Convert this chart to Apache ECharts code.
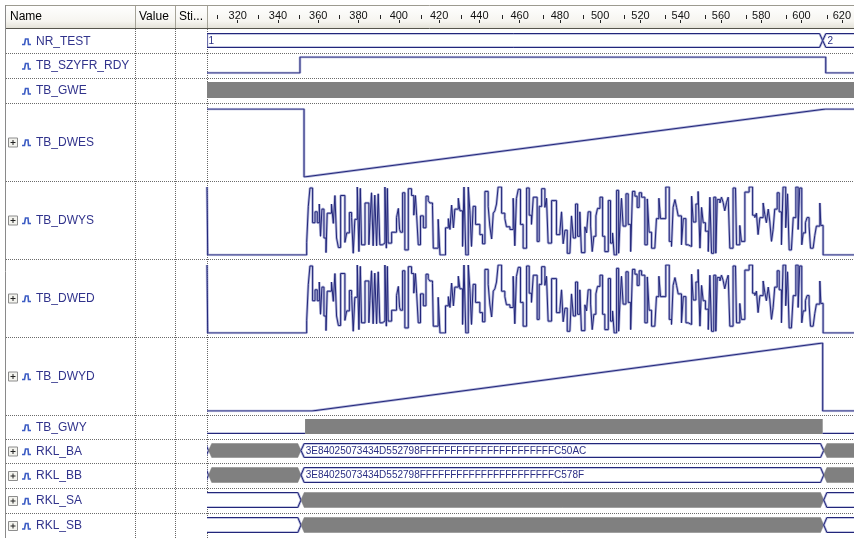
<!DOCTYPE html>
<html><head><meta charset="utf-8">
<script src="https://cdn.jsdelivr.net/npm/echarts@6/dist/echarts.min.js"></script>
<style>html,body{margin:0;padding:0;background:#fff}#c{width:854px;height:538px}</style>
</head><body><div id="c"></div>
<script>
// ---------- data ----------
const T_MIN = 304.75, T_MAX = 623.1;
const RULER_TICKS = [320,340,360,380,400,420,440,460,480,500,520,540,560,580,600,620];
const RULER_MINOR = [310,330,350,370,390,410,430,450,470,490,510,530,550,570,590,610];
const SIGNAL_NAMES = ['NR_TEST','TB_SZYFR_RDY','TB_GWE','TB_DWES','TB_DWYS','TB_DWED','TB_DWYD','TB_GWY','RKL_BA','RKL_BB','RKL_SA','RKL_SB'];
const EXPANDABLE = [false,false,false,true,true,true,true,false,true,true,true,true];
const COLUMN_HEADERS = ['Name','Value','Sti...'];

const NR_TEST_SEGMENTS = [[304.75, 607.7, 'V', '1'], [607.7, 660, 'V', '2']];
const SZYFR_RDY_POINTS = [[304.75,0],[350.5,1],[609.2,0],[623.1,0]];
const GWE_SEGMENTS = [[300, 660, 'R', '']];
const DWES_POINTS = [[304.75,255],[352.5,255],[352.5,0],[609.2,255],[623.1,255]];
const DWYS_POINTS = [[304.75,100],[305.1,0],
[353.8,18.5],[354.6,71.5],[355.4,98.5],[356.7,47.5],[357.9,63.5],[359,47.5],[360,75],[360.6,27.5],[361.3,67.5],[362.3,25],[363.3,3.5],[363.9,61.5],[366,75],[366.9,46.5],[367.7,87.5],[368.5,25],[369.4,11],[370.5,87.5],[372.6,18.5],[373.5,32.5],[374.8,62.5],[375.9,55],[376.7,2.5],[377.5,52.5],[378.7,100],[379.5,5],[380.2,98],[380.8,15],[382.5,76.5],[384.4,15],[384.9,47.5],[385.7,91.5],[386.5,13.5],[387.3,88],[388.2,13.5],[389,90],[389.8,15],[391,17.5],[392.3,100],[393,10],[393.5,98],[393.9,17.5],[395.6,33.5],[398,55],[398.9,68.5],[399.5,37.5],[400,33.5],[401,91.5],[402.1,7.5],[403.8,97.5],[405.4,87.5],[406.5,58.5],[407.3,87.5],[407.9,58.5],[408.7,15],[409.8,57.5],[411.2,40],[412.5,86.5],[413.6,80],[414.4,76.5],[415.7,72.5],[416.1,10],[418.5,52.5],[419.4,0],[422.1,40],[423.5,53.5],[424.3,37.5],[425.1,73.5],[426,40],[426.7,67.5],[428.4,83.5],[429.2,65],[430.5,12.5],[431.2,100],[432.1,0],[433.3,100],[434.1,65],[434.9,12.5],[435.7,71.5],[436.9,45],[439,30],[440.3,16.5],[441.5,93.5],[443.1,71.5],[443.9,42.5],[444.8,23.5],[445.6,61.5],[446.4,65],[447.2,75],[448,100],[449.7,61.5],[451.3,53.5],[452.1,41.5],[453.8,37.5],[455.4,83.5],[456.2,13.5],[457,83],[457.9,96.5],[459,45],[460.3,10],[462,98.5],[463.3,58.5],[464.4,45],[465.3,85],[467.2,20],[468.2,71.5],[469.4,97.5],[471,70],[471.8,83.5],[472.6,17.5],[474.3,80],[476.7,30],[478.4,35],[479.2,63.5],[480,16.5],
[480.9,36.5],[482,2.5],[483.3,0],[484.1,57.5],[485,25],[486.1,75],[487.1,27.5],[488.2,63.5],[489,3.5],[490.7,41.5],[491.5,32.5],[492.3,63.5],[493.5,42.5],[494.3,5],[495.1,27.5],[496.1,57.5],[496.9,68.5],[498.1,85],[499.4,27.5],[500.5,5],[502.2,80],[503.3,17.5],[504.3,32.5],[505.1,0],[506.3,95],[507.3,2.5],[507.9,42.5],[508.7,83.5],[509.5,42.5],[510.9,90],[512,45],[513.2,5],[514.1,93.5],[515.3,86.5],[516.4,70],[517.4,91.5],[518.6,85],[520.2,15],[521.4,82.5],[522.3,33.5],[523.5,10],[525.1,12.5],[525.9,53.5],[527.1,83.5],[527.9,53.5],[530.5,100],[532.2,20],[533.3,12.5],[534.1,70],[535,81.5],[535.8,70],[536.6,57.5],[538.2,15],[539.1,53.5],[540.4,15],[541.5,12.5],[543.2,86.5],[544,48.5],[545.3,75],[546.4,93.5],[547.3,10],[548.1,70],[548.9,47.5],[550,35],[551.4,5],[552.2,85],[553,2.5],[554.1,85],[555.1,2.5],[555.8,81.5],[557.1,76.5],[557.9,85],[558.7,77.5],[559.5,65],[560.4,77.5],[561.2,85],[562,10],[563.6,98.5],[564.8,100],[565.3,15],[566.9,43.5],[567.7,20],[569.4,92.5],[571.5,100],[573.2,58.5],[574.3,55],[575.1,61.5],[575.9,30],[576.8,55],[578.4,76.5],[579.2,60],[580,47.5],[580.9,67.5],[581.7,48.5],[582.5,20],[583.3,37.5],[584.1,67.5],[585.3,91.5],[586.3,63.5],[587.4,15],[588.2,100],[589.5,40],[590.4,90],[591.2,7.5],[592.3,5],[593.2,55],[594.5,100],[595.6,37.5],[596.4,98.5],[597.4,15],[598.1,32.5],[599.2,47.5],[600,55],[601,42.5],[601.7,10],[603,12.5],[603.8,28.5],[604.6,42.5],[606.3,76.5],[606.8,43.5],[607.9,0],[623.1,0]];
const DWED_POINTS = DWYS_POINTS;
const DWYD_POINTS = [[304.75,0],[356.4,0],[607.7,255],[607.7,0],[623.1,0]];
const GWY_SEGMENTS = [[300, 353, 'L', ''], [353, 607.7, 'R', ''], [607.7, 660, 'L', '']];
const RKL_BA_SEGMENTS = [[290, 305.5, 'V', ''], [305.5, 351, 'Z', ''], [351, 608.2, 'V', '3E84025073434D552798FFFFFFFFFFFFFFFFFFFFFFC50AC'], [608.2, 660, 'Z', '']];
const RKL_BB_SEGMENTS = [[290, 305.5, 'V', ''], [305.5, 351, 'Z', ''], [351, 608.2, 'V', '3E84025073434D552798FFFFFFFFFFFFFFFFFFFFFFC578F'], [608.2, 660, 'Z', '']];
const RKL_SA_SEGMENTS = [[290, 351, 'V', ''], [351, 608.2, 'Z', ''], [608.2, 660, 'V', '']];
const RKL_SB_SEGMENTS = [[290, 351, 'V', ''], [351, 608.2, 'Z', ''], [608.2, 660, 'V', '']];

// ---------- layout / style ----------
const ROW_EDGES = [29, 53, 78, 103, 181, 259, 337, 415, 439, 463, 488, 513, 538];
const BIG_ROWS = [3,4,5,6];
const WAVE_LEFT = 207;
const LINE_C = '#22267a', HALO_C = 'rgba(112,117,186,0.55)', GREY_C = '#808080';
const NAME_C = '#31338c';
const FONT = '"Liberation Sans", Arial, sans-serif';

const grids = [], xAxes = [], yAxes = [], series = [];
const yMax = [1,1,1,255,100,100,255,1,1,1,1,1];

ROW_EDGES.slice(0, -1).forEach((top, i) => {
  const h = ROW_EDGES[i+1] - top;
  const big = BIG_ROWS.includes(i);
  const gt = top + (big ? 6 : 4), gh = h - (big ? 10 : 9);
  grids.push({left: WAVE_LEFT, right: 0, top: gt, height: gh, containLabel: false});
  xAxes.push({gridIndex: i, type: 'value', min: T_MIN, max: T_MAX, show: false});
  yAxes.push({gridIndex: i, type: 'value', min: 0, max: yMax[i], show: false});
});
// ruler grids
grids.push({left: WAVE_LEFT, right: 0, top: 0, height: 23});
grids.push({left: WAVE_LEFT, right: 0, top: 0, height: 19});
xAxes.push({gridIndex: 12, type: 'value', min: T_MIN, max: T_MAX, position: 'bottom',
  axisLine: {show: false}, splitLine: {show: false},
  axisTick: {show: true, inside: true, length: 3, customValues: RULER_TICKS, lineStyle: {color: '#222', width: 1}},
  axisLabel: {show: true, inside: true, customValues: RULER_TICKS, margin: 7, verticalAlign: 'middle',
    color: '#111', fontSize: 11, fontFamily: FONT}});
xAxes.push({gridIndex: 13, type: 'value', min: T_MIN, max: T_MAX, position: 'bottom',
  axisLine: {show: false}, splitLine: {show: false}, axisLabel: {show: false},
  axisTick: {show: true, inside: true, length: 4, customValues: RULER_MINOR, lineStyle: {color: '#222', width: 1}}});
yAxes.push({gridIndex: 12, type: 'value', show: false});
yAxes.push({gridIndex: 13, type: 'value', show: false});

function wave(idx, data, step) {
  const base = {type: 'line', xAxisIndex: idx, yAxisIndex: idx, data: data, step: step, symbol: 'none',
    showSymbol: false, silent: true, animation: false, clip: true};
  series.push(Object.assign({}, base, {lineStyle: {width: 2.6, color: HALO_C}, z: 2}));
  series.push(Object.assign({}, base, {lineStyle: {width: 1, color: LINE_C}, z: 3}));
}

function segs(idx, segments) {
  series.push({
    type: 'custom', xAxisIndex: idx, yAxisIndex: idx, clip: true, silent: true, animation: false, z: 3,
    data: segments.map(s => [s[0], s[1]]),
    encode: {x: [0, 1]},
    renderItem: function (params, api) {
      const seg = segments[params.dataIndex];
      const a = api.coord([api.value(0), 1]), b = api.coord([api.value(1), 0]);
      const xl = a[0], xr = b[0], yt = a[1] + 0.5, yb = b[1] - 0.5, ym = (yt + yb) / 2;
      const kind = seg[2];
      const s = 3.2;
      const ls = seg[0] <= T_MIN + 0.01 ? 0 : s;
      if (kind === 'L') {
        return {type: 'group', children: [
          {type: 'line', shape: {x1: xl, y1: yb, x2: xr, y2: yb}, style: {stroke: HALO_C, lineWidth: 2.6}},
          {type: 'line', shape: {x1: xl, y1: yb, x2: xr, y2: yb}, style: {stroke: LINE_C, lineWidth: 1}}]};
      }
      if (kind === 'R') {
        return {type: 'rect', shape: {x: xl, y: yt - 0.5, width: xr - xl, height: yb - yt + 1}, style: {fill: GREY_C}};
      }
      const pts = [[xl, ym], [xl + ls, yt], [xr - s, yt], [xr, ym], [xr - s, yb], [xl + ls, yb]];
      if (kind === 'Z') {
        return {type: 'polygon', shape: {points: pts}, style: {fill: GREY_C, stroke: GREY_C, lineWidth: 0.5}};
      }
      const children = [
        {type: 'polygon', shape: {points: pts}, style: {fill: '#fff', stroke: HALO_C, lineWidth: 2.4}},
        {type: 'polygon', shape: {points: pts}, style: {fill: 'none', stroke: LINE_C, lineWidth: 1}}];
      if (seg[3]) {
        children.push({type: 'text', style: {text: seg[3], x: xl + ls + 1.5, y: ym + 0.5, verticalAlign: 'middle',
          fill: '#2a2e84', font: '10px ' + FONT}});
      }
      return {type: 'group', children: children};
    }
  });
}

segs(0, NR_TEST_SEGMENTS);
wave(1, SZYFR_RDY_POINTS, 'end');
segs(2, GWE_SEGMENTS);
wave(3, DWES_POINTS, false);
wave(4, DWYS_POINTS, 'end');
wave(5, DWED_POINTS, 'end');
wave(6, DWYD_POINTS, false);
segs(7, GWY_SEGMENTS);
segs(8, RKL_BA_SEGMENTS);
segs(9, RKL_BB_SEGMENTS);
segs(10, RKL_SA_SEGMENTS);
segs(11, RKL_SB_SEGMENTS);
// empty series for ruler grids
series.push({type: 'line', xAxisIndex: 12, yAxisIndex: 12, data: []});
series.push({type: 'line', xAxisIndex: 13, yAxisIndex: 13, data: []});

// ---------- decorations ----------
const g = [];
// header
g.push({type: 'rect', z: -10, shape: {x: 5, y: 5, width: 849, height: 23},
  style: {fill: new echarts.graphic.LinearGradient(0, 0, 0, 1, [{offset: 0, color: '#ffffff'}, {offset: 0.7, color: '#f6f5f0'}, {offset: 1, color: '#e4e2d8'}])}});
g.push({type: 'line', z: 5, shape: {x1: 5, y1: 5.5, x2: 854, y2: 5.5}, style: {stroke: '#9c9a90', lineWidth: 1}});
g.push({type: 'line', z: 5, shape: {x1: 5, y1: 28.5, x2: 854, y2: 28.5}, style: {stroke: '#55544c', lineWidth: 1}});
g.push({type: 'line', z: 5, shape: {x1: 5.5, y1: 5, x2: 5.5, y2: 538}, style: {stroke: '#8a8a8a', lineWidth: 1}});
[135.5, 175.5, 207.5].forEach(x => {
  g.push({type: 'line', z: 5, shape: {x1: x, y1: 6, x2: x, y2: 28}, style: {stroke: '#a5a398', lineWidth: 1}});
  g.push({type: 'line', z: -5, shape: {x1: x, y1: 29, x2: x, y2: 538}, style: {stroke: '#666', lineWidth: 1, lineDash: [1, 1]}});
});
[[COLUMN_HEADERS[0], 10], [COLUMN_HEADERS[1], 139], [COLUMN_HEADERS[2], 179]].forEach(([t, x]) => {
  g.push({type: 'text', z: 6, style: {text: t, x: x, y: 17, verticalAlign: 'middle', fill: '#000', font: '12px ' + FONT}});
});
// row separators
ROW_EDGES.slice(1, -1).forEach(y => {
  g.push({type: 'line', z: -5, shape: {x1: 6, y1: y + 0.5, x2: 854, y2: y + 0.5}, style: {stroke: '#6a6a6a', lineWidth: 1, lineDash: [1, 1]}});
});
// names
SIGNAL_NAMES.forEach((name, i) => {
  const c = (ROW_EDGES[i] + ROW_EDGES[i+1]) / 2 + 0.5;
  if (EXPANDABLE[i]) {
    g.push({type: 'rect', z: 6, shape: {x: 8.5, y: c - 4.5, width: 9, height: 9}, style: {fill: '#f3f3ee', stroke: '#8d8d8d', lineWidth: 1}});
    g.push({type: 'line', z: 7, shape: {x1: 10.5, y1: c, x2: 15.5, y2: c}, style: {stroke: '#222', lineWidth: 1}});
    g.push({type: 'line', z: 7, shape: {x1: 13, y1: c - 2.5, x2: 13, y2: c + 2.5}, style: {stroke: '#222', lineWidth: 1}});
  }
  g.push({type: 'polyline', z: 6, shape: {points: [[22, c + 3], [24.5, c + 3], [25.5, c - 2.5], [28, c - 2.5], [28.5, c + 3], [31, c + 3]]},
    style: {stroke: '#3c5cc4', lineWidth: 1.6, fill: null}});
  g.push({type: 'text', z: 6, style: {text: name, x: 36, y: c, verticalAlign: 'middle', fill: NAME_C, font: '12px ' + FONT}});
});

const chart = echarts.init(document.getElementById('c'), null, {renderer: 'canvas', width: 854, height: 538});
chart.setOption({
  animation: false,
  backgroundColor: '#ffffff',
  grid: grids, xAxis: xAxes, yAxis: yAxes, series: series, graphic: g
});
</script></body></html>
